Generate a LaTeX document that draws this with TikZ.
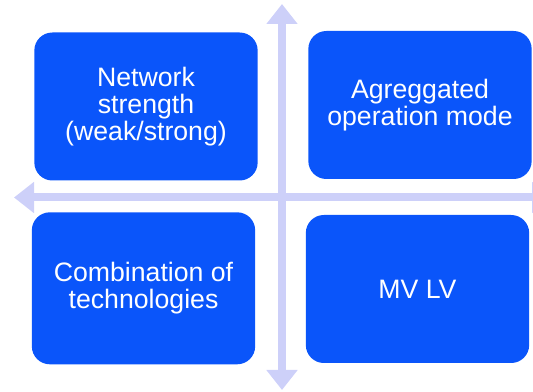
\documentclass[tikz,border=0pt]{standalone}
\usepackage{fontspec}
\setmainfont{Liberation Sans}
\usetikzlibrary{arrows.meta}
\definecolor{boxblue}{HTML}{0A55FA}
\definecolor{axisblue}{HTML}{CDD0F9}
\tikzset{
  quad/.style={shape=rectangle,rounded corners=13.5pt,fill=boxblue,text=white,
    align=center,inner sep=0pt,outer sep=0pt,minimum width=167.5pt,minimum height=111pt,
    font=\fontsize{20}{20.5}\selectfont},
  axis/.style={draw=axisblue,line width=6pt,
    {Triangle[length=15pt,width=22.5pt,fill=axisblue]}-{Triangle[length=15pt,width=22.5pt,fill=axisblue]}}
}
\begin{document}
\begin{tikzpicture}[x=0.75pt,y=-0.75pt]
    \clip (0,0) rectangle (533,392);
    \coordinate (N) at (282,4);
    \coordinate (S) at (282,390);
    \coordinate (W) at (14,197.5);
    \coordinate (E) at (552,197.5);
    \draw [axis] (S) -- (N);
    \draw [axis] (W) -- (E);
    \node[quad] (strength) at (146,106.5) {Network\\strength\\(weak/strong)};
    \node[quad] (mode) at (420,105) {Agreggated\\operation mode};
    \node[quad,minimum height=114pt] (techs) at (143.5,288.3) {Combination of\\technologies};
    \node[quad] (mvlv) at (417.5,289) {MV LV};
\end{tikzpicture}
\end{document}
